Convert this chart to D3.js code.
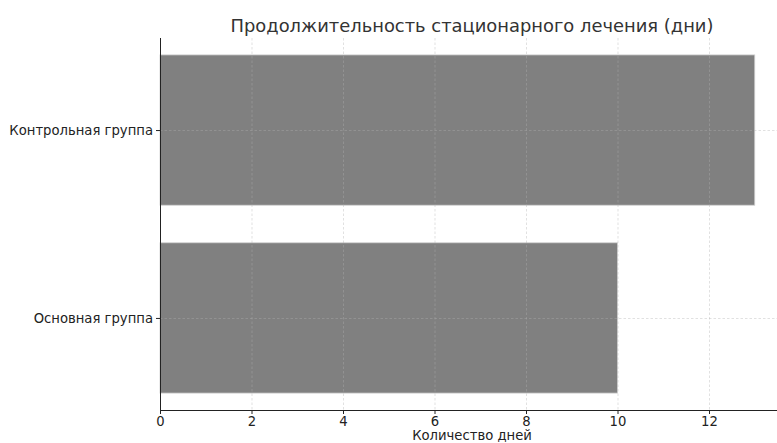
<!DOCTYPE html>
<html><head><meta charset="utf-8">
<script src="https://cdn.jsdelivr.net/npm/d3@7"></script>
<style>body{margin:0;background:#fff}svg{display:block;font-family:"DejaVu Sans",sans-serif}</style>
</head><body>
<svg id="c" width="777" height="443"></svg>
<script>
const categories = ["Основная группа", "Контрольная группа"];
const values = [10, 13];
const xTicks = [0, 2, 4, 6, 8, 10, 12];
const title = "Продолжительность стационарного лечения (дни)";
const xLabel = "Количество дней";

const svg = d3.select("#c");
const L = 160, R = 784.5, T = 38, B = 410;
const x = d3.scaleLinear().domain([0, 13.65]).range([L, R]);
const y = d3.scaleLinear().domain([-0.49, 1.49]).range([B, T]);
const bh = 0.8;

// bars
svg.append("g").selectAll("rect").data(values).join("rect")
  .attr("x", x(0)).attr("width", d => x(d) - x(0))
  .attr("y", (d, i) => y(i + bh / 2)).attr("height", (d, i) => y(i - bh / 2) - y(i + bh / 2))
  .attr("fill", "#808080").attr("stroke", "#d0d0d0").attr("stroke-width", 0.8);

// grid
const grid = svg.append("g").attr("stroke", "#b0b0b0").attr("stroke-opacity", 0.55)
  .attr("stroke-dasharray", "2.5,2").attr("stroke-width", 0.7);
grid.selectAll(".gx").data(xTicks).join("line")
  .attr("x1", d => x(d) + 0.5).attr("x2", d => x(d) + 0.5).attr("y1", T).attr("y2", B);
grid.selectAll(".gy").data(categories).join("line")
  .attr("x1", L).attr("x2", R).attr("y1", (d, i) => Math.round(y(i)) + 0.5).attr("y2", (d, i) => Math.round(y(i)) + 0.5);

// axes
const xAxis = d3.axisBottom(x).tickValues(xTicks).tickFormat(d3.format("d")).tickSizeOuter(0).tickSize(4).tickPadding(3);
const gx = svg.append("g").attr("transform", `translate(0,${B})`).call(xAxis);
gx.select(".domain").attr("stroke", "#222").attr("d", `M${L},0.5H${R}`).attr("stroke-width", 1);
gx.selectAll(".tick line").attr("stroke", "#222");
gx.selectAll("text").attr("font-size", 13.2).attr("fill", "#222").attr("font-family", "DejaVu Sans");

const yAxis = d3.axisLeft(y).tickValues([0, 1]).tickFormat(i => categories[i]).tickSizeOuter(0).tickSize(4).tickPadding(3);
const gy = svg.append("g").attr("transform", `translate(${L},0)`).call(yAxis);
gy.select(".domain").attr("stroke", "#222").attr("d", `M0.5,${T}V${B}`).attr("stroke-width", 1);
gy.selectAll(".tick line").attr("stroke", "#222");
gy.selectAll("text").attr("font-size", 13.2).attr("fill", "#222").attr("font-family", "DejaVu Sans");

svg.append("text").attr("x", 472).attr("y", 32).attr("text-anchor", "middle")
  .attr("font-size", 17.9).attr("fill", "#333").text(title);
svg.append("text").attr("x", 472).attr("y", 440).attr("text-anchor", "middle")
  .attr("font-size", 13.2).attr("fill", "#222").text(xLabel);
</script>
</body></html>
